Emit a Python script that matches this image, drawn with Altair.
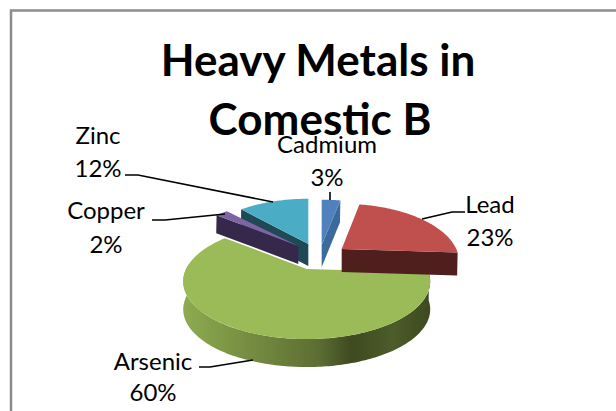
import math
import altair as alt
import pandas as pd

# Shares of each metal, clockwise from twelve o'clock
metals = ["Cadmium", "Lead", "Arsenic", "Copper", "Zinc"]
shares = [3, 23, 60, 2, 12]

# Drawing style per slice
top_colors = {"Cadmium": "#4f81bd", "Lead": "#c0504d", "Arsenic": "#9bbb59", "Copper": "#8064a2", "Zinc": "#4bacc6"}
wall_colors = {"Cadmium": "#3c6a9a", "Lead": "#4f1f1e", "Copper": "#35284a", "Zinc": "#1f4a55"}
apex = {"Cadmium": (321.7, 245), "Lead": (341.7, 249), "Arsenic": (306.7, 269), "Copper": (298.3, 246), "Zinc": (308.3, 244)}
spread = {"Cadmium": 1.0, "Lead": 0.95, "Arsenic": 1.0, "Copper": 1.0, "Zinc": 0.94}
depth = {"Cadmium": 22, "Lead": 23, "Arsenic": 28, "Copper": 18, "Zinc": 22}

# Flattened disc seen in perspective
RX, RY, TILT = 120.6, 55.0, 0.215
W, H = 616, 411


def rim(metal, deg, drop=0.0):
    a = math.radians(deg)
    u, v = math.sin(a), math.cos(a)
    s = 1 / (1 + TILT * v)
    ax, ay = apex[metal]
    return (ax + spread[metal] * RX * u * s, ay - RY * v * s + drop)


def top_face(metal, start, end):
    steps = max(4, int(end - start))
    return [apex[metal]] + [rim(metal, start + (end - start) * i / steps) for i in range(steps + 1)]


def radial_wall(metal, deg):
    d = depth[metal]
    ax, ay = apex[metal]
    ox, oy = rim(metal, deg)
    return [(ax, ay), (ox, oy), (ox - 0.02 * d, oy + d), (ax, ay + d)]


def rim_wall(metal, start, end):
    d = depth[metal]
    n = int(end - start)
    upper = [rim(metal, start + (end - start) * i / n) for i in range(n + 1)]
    lower = [rim(metal, start + (end - start) * i / n, d) for i in range(n + 1)]
    return upper + lower[::-1]


xs = alt.Scale(domain=[0, W], range=[0, W])
ys = alt.Scale(domain=[0, H], range=[0, H])


def polygon(points, fill):
    df = pd.DataFrame(points, columns=["x", "y"]).assign(i=range(len(points)))
    return alt.Chart(df).mark_line(
        filled=True, fill=fill, stroke=None, interpolate="linear-closed", strokeWidth=0
    ).encode(
        x=alt.X("x:Q", scale=xs, axis=None),
        y=alt.Y("y:Q", scale=ys, axis=None),
        order="i:Q",
    )


def leader(points):
    df = pd.DataFrame(points, columns=["x", "y"]).assign(i=range(len(points)))
    return alt.Chart(df).mark_line(color="#000000", strokeWidth=1.6).encode(
        x=alt.X("x:Q", scale=xs, axis=None),
        y=alt.Y("y:Q", scale=ys, axis=None),
        order="i:Q",
    )


bounds = {}
acc = 0
for m, v in zip(metals, shares):
    bounds[m] = (acc * 3.6, (acc + v) * 3.6)
    acc += v

green_wall = alt.Gradient(
    gradient="linear", x1=0, x2=1, y1=0, y2=0,
    stops=[
        alt.GradientStop(color="#8dab50", offset=0.0),
        alt.GradientStop(color="#73893f", offset=0.3),
        alt.GradientStop(color="#5c6e33", offset=0.55),
        alt.GradientStop(color="#3f4a20", offset=0.68),
        alt.GradientStop(color="#4c5c2a", offset=0.85),
        alt.GradientStop(color="#3e4920", offset=1.0),
    ],
)

layers = [
    polygon(radial_wall("Zinc", bounds["Zinc"][0]), wall_colors["Zinc"]),
    polygon(top_face("Zinc", *bounds["Zinc"]), top_colors["Zinc"]),
    polygon(radial_wall("Copper", bounds["Copper"][0]), wall_colors["Copper"]),
    polygon(top_face("Copper", *bounds["Copper"]), top_colors["Copper"]),
    polygon(rim_wall("Arsenic", bounds["Arsenic"][0], 275), green_wall),
    polygon(top_face("Arsenic", *bounds["Arsenic"]), top_colors["Arsenic"]),
    polygon(radial_wall("Cadmium", bounds["Cadmium"][1]), wall_colors["Cadmium"]),
    polygon(top_face("Cadmium", *bounds["Cadmium"]), top_colors["Cadmium"]),
    polygon(radial_wall("Lead", bounds["Lead"][1]), wall_colors["Lead"]),
    polygon(top_face("Lead", *bounds["Lead"]), top_colors["Lead"]),
]

# Leader lines from the labels to their slices
leaders = [
    [(125, 175), (138, 175), (273, 202)],
    [(152, 220), (165, 220), (225, 214)],
    [(330, 192), (330, 200)],
    [(422, 219), (452, 212), (465, 212)],
    [(199, 367), (210, 367), (253, 360)],
]
layers += [leader(p) for p in leaders]

# Slice labels
label_rows = [
    ("Cadmium", 327, 146), ("3%", 327, 179),
    ("Lead", 490, 206), ("23%", 490, 239),
    ("Arsenic", 153, 363), ("60%", 153, 394),
    ("Copper", 106, 212), ("2%", 106, 246),
    ("Zinc", 98, 137), ("12%", 98, 170),
]
labels_df = pd.DataFrame(label_rows, columns=["text", "x", "y"])
labels = alt.Chart(labels_df).mark_text(font="Lato", fontSize=24, color="#000000").encode(
    x=alt.X("x:Q", scale=xs, axis=None),
    y=alt.Y("y:Q", scale=ys, axis=None),
    text="text:N",
)

# Chart title, two centred lines
title_df = pd.DataFrame(
    [("Heavy Metals in", 318, 63), ("Comestic B", 320, 122)], columns=["text", "x", "y"]
)
title = alt.Chart(title_df).mark_text(font="Lato", fontSize=44, fontWeight="bold", color="#000000").encode(
    x=alt.X("x:Q", scale=xs, axis=None),
    y=alt.Y("y:Q", scale=ys, axis=None),
    text="text:N",
)

# Chart area frame: left and top edges, running off the page
frame_df = pd.DataFrame([(11, 430, 0), (11, 10.5, 1), (630, 10.5, 2)], columns=["x", "y", "i"])
frame = alt.Chart(frame_df).mark_line(color="#8c8c8c", strokeWidth=2.5, clip=True).encode(
    x=alt.X("x:Q", scale=xs, axis=None),
    y=alt.Y("y:Q", scale=ys, axis=None),
    order="i:Q",
)

chart = alt.layer(frame, *layers, labels, title).properties(
    width=W, height=H, padding=0, autosize=alt.AutoSizeParams(type="none"), background="#ffffff"
).configure_view(stroke=None)

chart.save("out.html", embed_options={"renderer": "svg", "actions": False})
